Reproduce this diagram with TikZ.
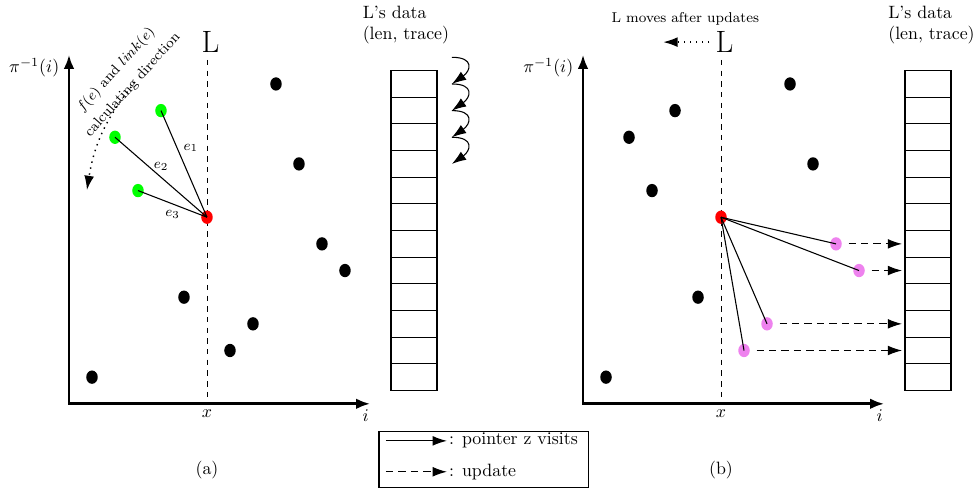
\documentclass[tikz,border=0pt]{standalone}
\usetikzlibrary{arrows.meta}
\definecolor{visitviolet}{RGB}{238,130,238}
\tikzset{
  axis/.style={ultra thick,{Latex[length=8pt,width=6pt]}-{Latex[length=8pt,width=6pt]}},
  hd/.style={-{Latex[length=8pt,width=5.5pt]}},
  update/.style={semithick,dash pattern=on 4pt off 3pt,hd},
  visit/.style={semithick},
  elabel/.style={font=\footnotesize},
  cell/.style={semithick},
}
\begin{document}
\begin{tikzpicture}[x=0.453cm,y=0.525cm]
  \useasboundingbox (-3,-3.19) rectangle (39.48,15.15);
  %% ---------------- left panel ----------------
  \begin{scope}
    %% axes
    \draw[axis] (0,13.1) -- (0,0) -- (13.1,0);
    \node[left] (ylabA) at (-0.15,12.6) {$\pi^{-1}(i)$};
    \node[below] (ilabA) at (12.9,0) {$i$};
    \node[below] (xlabA) at (6,0) {$x$};
    \node (capA) at (6,-2.47) {(a)};
    %% line L
    \node[font=\LARGE] (LA) at (6.15,13.57) {L};
    \draw[dashed] (6,12.9) -- (6,0);
    %% points
    \foreach \name/\i/\j in {A1/1/1,A2/2/10,A3/3/8,A4/4/11,A5/5/4,A6/6/7,
                             A7/7/2,A8/8/3,A9/9/12,A10/10/9,A11/11/6,A12/12/5}
      \coordinate (\name) at (\i,\j);
    \foreach \p in {A1,A5,A7,A8,A9,A10,A11,A12}
      \fill (\p) circle (0.25);
    \foreach \p in {A2,A3,A4}
      \fill[green] (\p) circle (0.25);
    \fill[red] (A6) circle (0.25);
    %% edges
    \draw[visit] (A6) -- node[elabel,pos=0.65,right]{$e_1$} (A4);
    \draw[visit] (A6) -- node[elabel,midway,above]{$e_2$} (A2);
    \draw[visit] (A6) -- node[elabel,midway,below]{$e_3$} (A3);
    %% calculating direction
    \node[font=\footnotesize,align=center,rotate=48] (dirA) at (2.4,12.25)
      {$f(e)$ and $link(e)$\\[3pt]calculating direction};
    \coordinate (dirS) at (2.87,12.07);
    \coordinate (dirT) at (0.78,8.02);
    \draw[thick,dash pattern=on 0.8pt off 2.6pt,hd] (dirS) to[bend right=15] (dirT);
    %% L's data
    \foreach \k in {0,...,11}
      \draw[cell] (14,0.5+\k) rectangle (16,1.5+\k);
    \node[anchor=west,align=left] (dataA) at (12.5,14.2) {L's data\\(len, trace)};
    \coordinate (cA0) at (16.65,13.0);
    \foreach \k in {1,...,4}
      \coordinate (cA\k) at (16.65,13-\k);
    \foreach \k [count=\c] in {0,...,3}
      \draw[semithick,hd] (cA\k) to[out=0,in=35,looseness=2.2] (cA\c);
    %% legend
    \draw[semithick] (13.48,-1.05) rectangle (22.57,-3.15);
    \coordinate (lgA) at (13.78,-1.39);
    \coordinate (lgB) at (16.43,-1.39);
    \coordinate (lgC) at (13.78,-2.55);
    \coordinate (lgD) at (16.43,-2.55);
    \draw[semithick,hd] (lgA) -- (lgB) node[right,inner sep=1pt] (lgvisit) {: pointer z visits};
    \draw[update] (lgC) -- (lgD) node[right,inner sep=1pt] (lgupdate) {: update};
  \end{scope}
  %% ---------------- right panel ----------------
  \begin{scope}[shift={(22.35,0)}]
    %% axes
    \draw[axis] (0,13.1) -- (0,0) -- (13.1,0);
    \node[left] (ylabB) at (-0.15,12.6) {$\pi^{-1}(i)$};
    \node[below] (ilabB) at (12.9,0) {$i$};
    \node[below] (xlabB) at (6,0) {$x$};
    \node (capB) at (6,-2.47) {(b)};
    %% line L
    \node[font=\LARGE] (LB) at (6.15,13.57) {L};
    \draw[dashed] (6,12.9) -- (6,0);
    \path (LB.west) ++(-2,0) coordinate (mvtip);
    \draw[thick,dash pattern=on 0.8pt off 2.6pt,hd] (LB.west) -- (mvtip);
    \node[font=\footnotesize] (mvtext) at (4.45,14.45) {L moves after updates};
    %% points
    \foreach \name/\i/\j in {B1/1/1,B2/2/10,B3/3/8,B4/4/11,B5/5/4,B6/6/7,
                             B7/7/2,B8/8/3,B9/9/12,B10/10/9,B11/11/6,B12/12/5}
      \coordinate (\name) at (\i,\j);
    \foreach \p in {B1,B2,B3,B4,B5,B9,B10}
      \fill (\p) circle (0.25);
    \foreach \p in {B7,B8,B11,B12}
      \fill[visitviolet] (\p) circle (0.25);
    \fill[red] (B6) circle (0.25);
    %% edges
    \foreach \p in {B7,B8,B11,B12}
      \draw[visit] (B6) -- (\p);
    %% L's data
    \foreach \k in {0,...,11}
      \draw[cell] (14,0.5+\k) rectangle (16,1.5+\k);
    \node[anchor=west,align=left] (dataB) at (13.0,14.2) {L's data\\(len, trace)};
    \coordinate (arrB) at (13.87,0);
    %% updates
    \foreach \p in {B7,B8,B11,B12}
      \draw[update,shorten <=7pt] (\p) -- (\p -| arrB);
  \end{scope}
\end{tikzpicture}
\end{document}
